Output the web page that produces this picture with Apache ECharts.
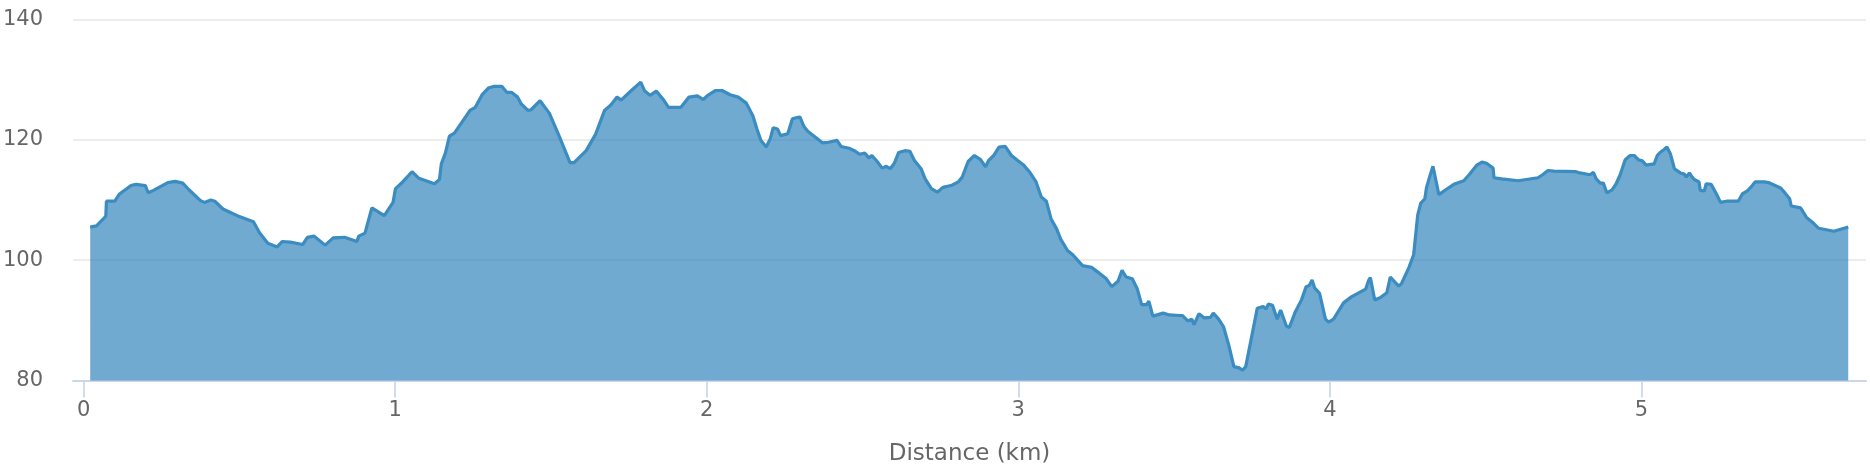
<!DOCTYPE html>
<html>
<head>
<meta charset="utf-8">
<script src="https://cdn.jsdelivr.net/npm/echarts@6/dist/echarts.min.js"></script>
<style>
  html, body { margin: 0; padding: 0; background: #ffffff; }
  #chart { width: 1870px; height: 474px; }
</style>
</head>
<body>
<div id="chart"></div>
<script>
const distanceKm = [
  0.021,0.041,0.071,0.073,0.100,0.115,0.152,0.168,0.198,0.207,
  0.224,0.270,0.294,0.318,0.338,0.375,0.388,0.408,0.421,0.447,
  0.493,0.545,0.565,0.591,0.621,0.637,0.663,0.703,0.718,0.739,
  0.775,0.801,0.837,0.877,0.883,0.903,0.925,0.965,0.993,1.001,
  1.024,1.054,1.076,1.126,1.142,1.148,1.161,1.174,1.190,1.227,
  1.240,1.257,1.279,1.299,1.318,1.342,1.358,1.373,1.393,1.404,
  1.426,1.436,1.465,1.495,1.528,1.561,1.574,1.591,1.613,1.643,
  1.672,1.692,1.712,1.725,1.758,1.788,1.792,1.801,1.818,1.838,
  1.862,1.877,1.917,1.943,1.970,1.989,2.003,2.029,2.049,2.075,
  2.101,2.127,2.148,2.161,2.174,2.191,2.204,2.213,2.227,2.237,
  2.260,2.275,2.290,2.299,2.312,2.325,2.352,2.371,2.391,2.418,
  2.431,2.457,2.477,2.490,2.507,2.520,2.530,2.547,2.563,2.576,
  2.589,2.602,2.616,2.636,2.652,2.666,2.688,2.701,2.721,2.740,
  2.758,2.784,2.807,2.820,2.839,2.859,2.879,2.895,2.905,2.921,
  2.938,2.958,2.978,2.997,3.017,3.037,3.057,3.074,3.090,3.105,
  3.123,3.136,3.158,3.175,3.206,3.235,3.261,3.281,3.300,3.320,
  3.333,3.346,3.366,3.382,3.396,3.412,3.419,3.432,3.465,3.485,
  3.518,3.527,3.544,3.557,3.564,3.580,3.597,3.617,3.626,3.643,
  3.659,3.676,3.692,3.709,3.720,3.730,3.748,3.767,3.786,3.795,
  3.803,3.816,3.831,3.842,3.860,3.870,3.889,3.909,3.924,3.934,
  3.943,3.951,3.967,3.986,3.996,4.012,4.044,4.069,4.115,4.125,
  4.130,4.144,4.160,4.183,4.194,4.221,4.230,4.254,4.269,4.282,
  4.292,4.305,4.310,4.320,4.331,4.350,4.372,4.398,4.430,4.447,
  4.472,4.488,4.503,4.524,4.527,4.552,4.604,4.668,4.683,4.700,
  4.719,4.790,4.803,4.835,4.846,4.855,4.868,4.878,4.889,4.906,
  4.919,4.932,4.948,4.964,4.977,4.990,5.003,5.015,5.041,5.051,
  5.060,5.073,5.082,5.093,5.106,5.125,5.138,5.144,5.154,5.163,
  5.170,5.176,5.185,5.189,5.202,5.208,5.224,5.241,5.254,5.273,
  5.311,5.324,5.340,5.356,5.365,5.395,5.408,5.447,5.459,5.476,
  5.481,5.511,5.530,5.549,5.569,5.618,5.664
];
const elevationM = [
  105.5,105.7,107.3,109.8,109.8,111.0,112.4,112.6,112.4,111.2,
  111.6,112.9,113.1,112.8,111.7,109.9,109.6,110.0,109.8,108.5,
  107.4,106.4,104.5,102.8,102.2,103.1,103.0,102.6,103.8,104.0,
  102.5,103.7,103.8,103.1,104.0,104.5,108.7,107.4,109.6,111.9,
  113.0,114.7,113.6,112.7,113.4,116.0,117.8,120.6,121.1,123.9,
  124.9,125.4,127.5,128.6,128.9,128.9,127.9,127.9,127.1,126.0,
  124.9,125.0,126.5,124.4,120.4,116.2,116.2,117.1,118.2,120.9,
  124.9,125.8,127.1,126.6,128.2,129.6,129.5,128.1,127.4,128.1,
  126.6,125.4,125.4,127.1,127.3,126.7,127.4,128.2,128.2,127.5,
  127.1,126.1,124.0,121.8,119.9,118.8,120.2,122.0,121.8,120.7,
  121.0,123.5,123.7,123.8,122.2,121.4,120.3,119.5,119.6,119.9,
  118.9,118.6,118.1,117.6,117.8,117.0,117.4,116.4,115.3,115.6,
  115.2,116.1,117.9,118.2,118.1,116.6,115.2,113.5,111.9,111.3,
  112.1,112.4,113.0,113.8,116.4,117.4,116.7,115.5,116.6,117.4,
  118.8,118.9,117.4,116.6,115.8,114.6,113.0,110.5,109.8,106.9,
  105.2,103.5,101.6,100.9,99.1,98.8,97.8,97.0,95.6,96.5,
  98.3,97.2,96.9,95.2,92.6,92.6,93.2,90.7,91.2,90.9,
  90.8,90.8,89.9,90.2,89.3,91.1,90.4,90.5,91.2,90.2,
  88.9,85.8,82.3,82.1,81.7,82.3,87.0,92.0,92.3,91.9,
  92.7,92.5,90.2,91.7,89.1,88.8,91.4,93.4,95.6,95.8,
  96.7,95.4,94.5,90.2,89.7,90.2,92.9,93.9,95.2,96.7,
  97.1,93.4,93.7,94.6,97.2,95.7,96.1,98.8,100.9,107.5,
  109.5,110.2,112.0,113.8,115.6,110.9,111.7,112.6,113.2,114.2,
  115.8,116.3,116.1,115.3,113.7,113.5,113.2,113.7,114.2,114.9,
  114.8,114.7,114.5,114.2,114.6,113.5,112.8,112.8,111.2,111.7,
  112.7,114.2,116.7,117.4,117.4,116.7,116.5,115.8,116.0,117.4,
  117.9,118.4,118.8,117.7,115.2,114.5,114.3,113.8,114.5,113.8,
  113.4,113.6,113.0,111.6,111.5,112.7,112.6,111.0,109.6,109.8,
  109.8,111.0,111.5,112.4,113.0,113.0,112.9,112.0,111.3,110.2,
  109.0,108.7,107.1,106.3,105.3,104.8,105.5
];
const xTickValues = [0, 1, 2, 3, 4, 5];
const yTickValues = [80, 100, 120, 140];
const xAxisTitle = 'Distance (km)';

const points = distanceKm.map((d, i) => [d, elevationM[i]]);
const FONT = '"DejaVu Sans", "Noto Sans", sans-serif';

const chart = echarts.init(document.getElementById('chart'), null, { renderer: 'canvas' });
chart.setOption({
  animation: false,
  backgroundColor: '#ffffff',
  grid: { left: 72, right: 4, top: 19.5, bottom: 93.5, containLabel: false },
  xAxis: {
    type: 'value',
    min: -0.034,
    max: 5.721,
    name: xAxisTitle,
    nameLocation: 'middle',
    nameGap: 62,
    nameTextStyle: { fontFamily: FONT, fontSize: 23, color: '#666666' },
    axisLine: { show: true, lineStyle: { color: '#ccd6eb', width: 2 } },
    axisTick: { show: true, customValues: xTickValues, length: 17, lineStyle: { color: '#ccd6eb', width: 1.7 } },
    axisLabel: { customValues: xTickValues, margin: 20, fontFamily: FONT, fontSize: 21, color: '#666666' },
    splitLine: { show: false }
  },
  yAxis: {
    type: 'value',
    min: yTickValues[0],
    max: yTickValues[yTickValues.length - 1],
    interval: 20,
    axisLine: { show: false },
    axisTick: { show: false },
    axisLabel: { margin: 30, fontFamily: FONT, fontSize: 21, color: '#666666' },
    splitLine: { show: true, lineStyle: { color: '#e6e6e6', width: 1.7 } }
  },
  series: [{
    type: 'line',
    data: points,
    symbol: 'none',
    smooth: false,
    lineStyle: { color: '#3a8cc1', width: 3.2 },
    areaStyle: { color: 'rgb(45,130,185)', opacity: 0.68 },
    z: 3
  }]
});
</script>
</body>
</html>
